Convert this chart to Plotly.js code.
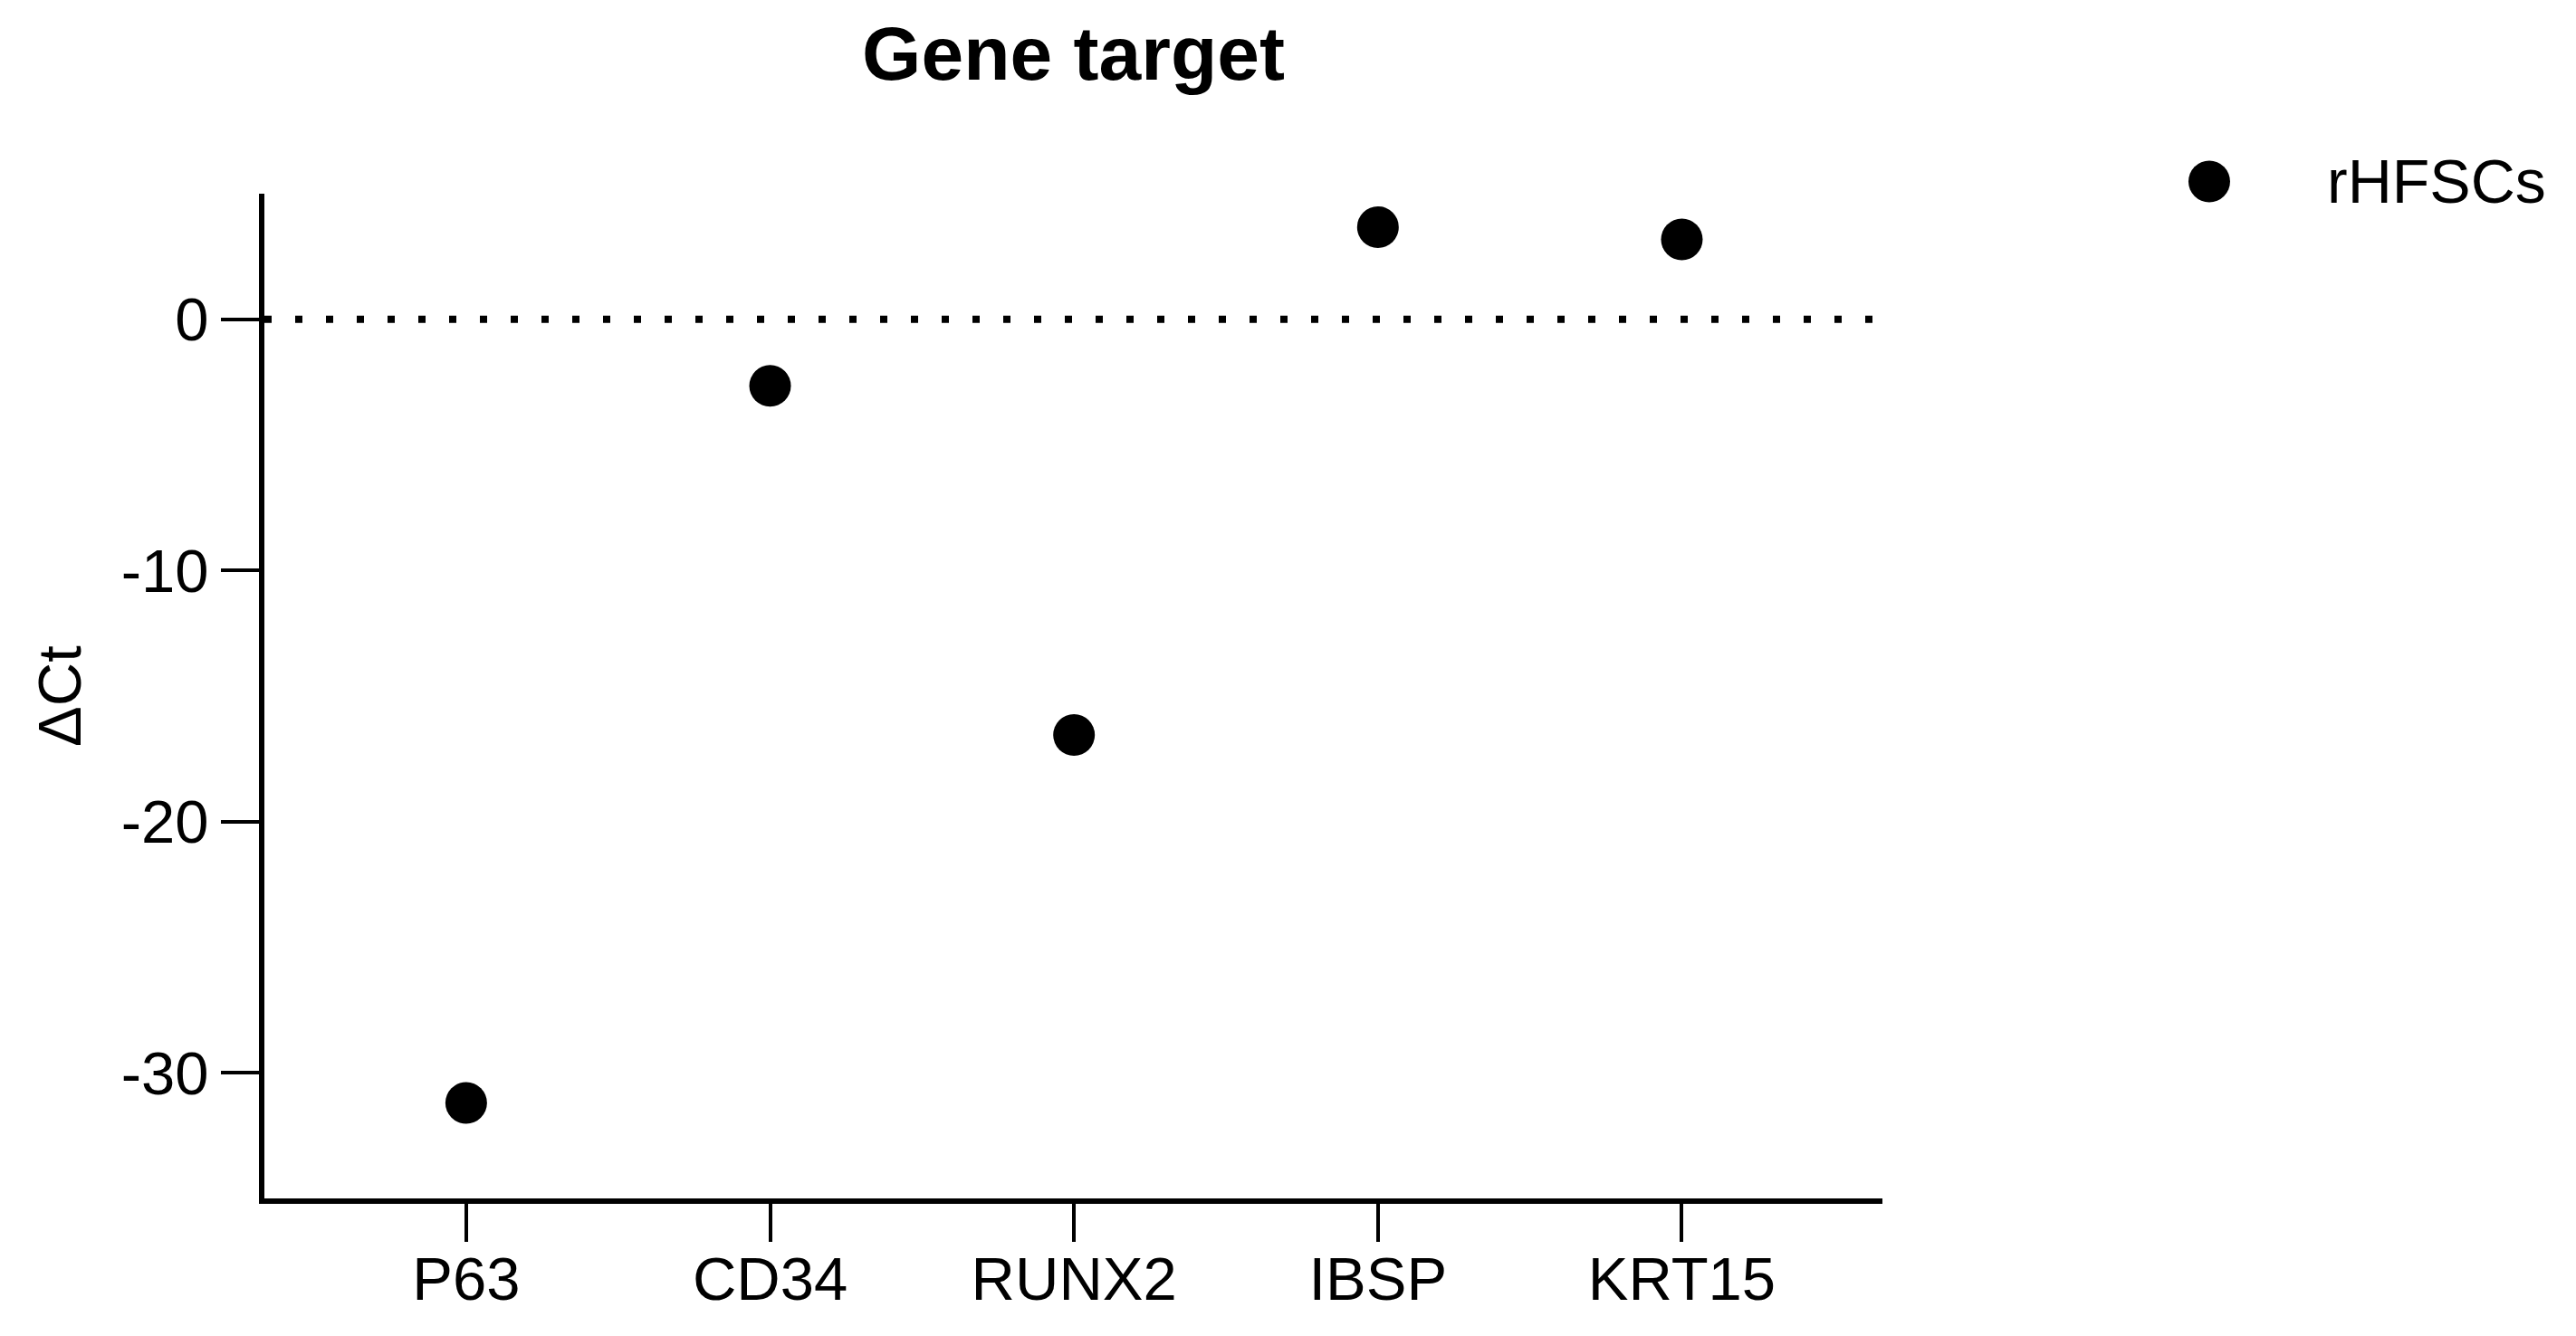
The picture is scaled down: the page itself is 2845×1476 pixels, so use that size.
<!DOCTYPE html>
<html>
<head>
<meta charset="utf-8">
<script src="https://cdn.plot.ly/plotly-3.0.1.min.js"></script>
<style>html,body{margin:0;padding:0;background:#fff;}#chart{width:2845px;height:1476px;}</style>
</head>
<body>
<div id="chart"></div>
<script>
var genes = ["P63", "CD34", "RUNX2", "IBSP", "KRT15"];
var deltaCt = [-31.2, -2.65, -16.55, 3.67, 3.18];
var seriesName = "rHFSCs";
var yTicks = [0, -10, -20, -30];
var chartTitle = "Gene target";
var yTitle = "ΔCt";

var FONT = "Liberation Sans, Arial, sans-serif";

var trace = {
  type: "scatter",
  mode: "markers",
  x: genes,
  y: deltaCt,
  name: seriesName,
  showlegend: false,
  marker: {color: "#000000", size: 46, symbol: "circle"},
  cliponaxis: false
};

var layout = {
  width: 2845,
  height: 1476,
  paper_bgcolor: "#ffffff",
  plot_bgcolor: "#ffffff",
  margin: {l: 292, r: 766, t: 214, b: 152, pad: 0},
  font: {family: FONT, color: "#000000", size: 67},
  title: {
    text: "<b>" + chartTitle + "</b>",
    font: {family: FONT, size: 84, color: "#000000"},
    x: 0.5, xref: "paper", xanchor: "center",
    y: 0.96, yref: "container", yanchor: "middle"
  },
  xaxis: {
    type: "category",
    range: [-0.664, 4.66],
    showgrid: false,
    zeroline: false,
    showline: true,
    linecolor: "#000000",
    linewidth: 6,
    ticks: "outside",
    ticklen: 42,
    tickwidth: 4,
    tickcolor: "#000000",
    ticklabelstandoff: -16,
    tickfont: {family: FONT, size: 67, color: "#000000"},
    fixedrange: true
  },
  yaxis: {
    range: [-35, 5],
    tickvals: yTicks,
    ticktext: yTicks.map(String),
    showgrid: false,
    zeroline: false,
    showline: true,
    linecolor: "#000000",
    linewidth: 6,
    ticks: "outside",
    ticklen: 42,
    tickwidth: 4,
    tickcolor: "#000000",
    tickfont: {family: FONT, size: 67, color: "#000000"},
    title: {text: yTitle, font: {family: FONT, size: 67, color: "#000000"}, standoff: 24},
    fixedrange: true
  },
  shapes: [
    {
      type: "line", xref: "paper", yref: "y",
      x0: 0, x1: 0.999, y0: 0, y1: 0,
      line: {color: "#000000", width: 8, dash: "8px,26px"}
    },
    {
      type: "circle", xref: "paper", yref: "paper",
      xsizemode: "pixel", ysizemode: "pixel",
      xanchor: 1.202, yanchor: 1.0122,
      x0: -23, x1: 23, y0: -23, y1: 23,
      fillcolor: "#000000", line: {width: 0}
    }
  ],
  annotations: [
    {
      text: seriesName, xref: "paper", yref: "paper",
      x: 1.2737, y: 1.0122, xanchor: "left", yanchor: "middle",
      showarrow: false,
      font: {family: FONT, size: 68, color: "#000000"}
    }
  ]
};

Plotly.newPlot("chart", [trace], layout, {displayModeBar: false, staticPlot: true});
</script>
</body>
</html>
